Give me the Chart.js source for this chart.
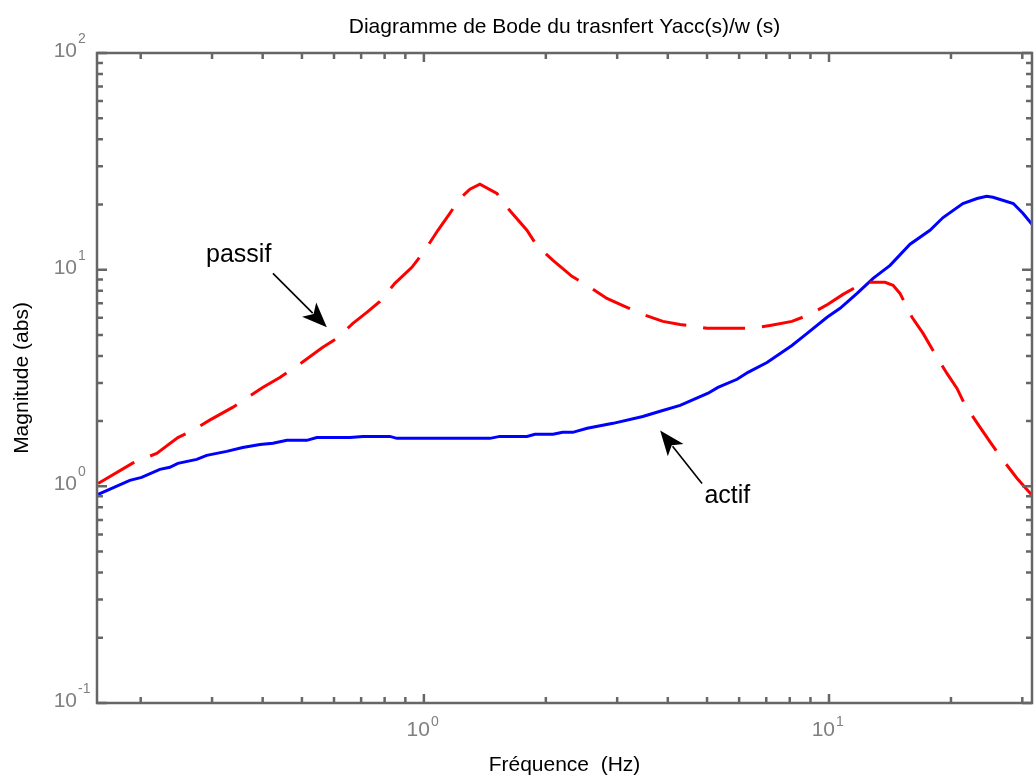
<!DOCTYPE html>
<html>
<head>
<meta charset="utf-8">
<script src="https://cdn.jsdelivr.net/npm/chart.js@4.4.0/dist/chart.umd.min.js"></script>
<style>
  html, body { margin: 0; padding: 0; background: #fff; }
  canvas { display: block; }
</style>
</head>
<body>
<canvas id="bode" width="1035" height="778"></canvas>
<script>
// passive suspension (red dashed)
var freqPassif = [0.157, 0.191, 0.219, 0.247, 0.264, 0.296, 0.338, 0.400, 0.441, 0.500,
                  0.563, 0.610, 0.668, 0.723, 0.779, 0.848, 0.934, 1.006, 1.083, 1.159,
                  1.227, 1.299, 1.375, 1.514, 1.603, 1.796, 1.901, 2.083, 2.32, 2.53,
                  2.83, 3.17, 3.47, 3.89, 4.29, 5.00, 6.45, 7.15, 8.10, 8.98,
                  9.94, 10.83, 11.73, 12.6, 13.75, 14.39, 14.97, 16.03, 17.07, 18.48,
                  19.55, 20.7, 21.7, 23.6, 25.0, 26.9, 29.1, 31.7];
var magPassif = [1.03, 1.28, 1.42, 1.68, 1.78, 2.02, 2.32, 2.86, 3.18, 3.73,
                 4.38, 4.82, 5.65, 6.35, 7.14, 8.65, 10.25, 12.3, 15.2, 18.2,
                 21.3, 23.5, 24.8, 22.5, 19.4, 15.2, 12.9, 11.04, 9.31, 8.47,
                 7.37, 6.70, 6.22, 5.77, 5.59, 5.36, 5.36, 5.53, 5.77, 6.22,
                 6.92, 7.69, 8.37, 8.74, 8.74, 8.47, 7.77, 6.03, 5.08, 3.94,
                 3.32, 2.83, 2.36, 1.87, 1.60, 1.32, 1.09, 0.909];

// active suspension (blue solid)
var freqActif = [0.157, 0.188, 0.201, 0.223, 0.236, 0.247, 0.275, 0.291, 0.326, 0.357,
                 0.394, 0.424, 0.459, 0.514, 0.544, 0.657, 0.707, 0.824, 0.858, 1.455,
                 1.54, 1.796, 1.88, 2.083, 2.20, 2.33, 2.53, 2.93, 3.47, 3.83,
                 4.29, 5.03, 5.32, 5.93, 6.31, 7.03, 8.10, 8.83, 9.89, 10.65,
                 11.73, 12.85, 14.15, 15.85, 17.75, 19.12, 21.4, 23.2, 24.5, 25.4,
                 28.5, 30.1, 31.7];
var magActif = [0.919, 1.066, 1.10, 1.198, 1.224, 1.277, 1.332, 1.39, 1.45, 1.51,
                1.56, 1.58, 1.63, 1.63, 1.68, 1.68, 1.70, 1.70, 1.665, 1.665,
                1.70, 1.70, 1.74, 1.74, 1.775, 1.775, 1.853, 1.953, 2.10, 2.22,
                2.365, 2.69, 2.86, 3.12, 3.36, 3.73, 4.47, 5.08, 6.03, 6.63,
                7.77, 9.12, 10.47, 13.1, 15.2, 17.4, 20.2, 21.3, 21.8, 21.6,
                20.2, 18.2, 16.2];

// tick labels (10^exp)
var xTickValues = [1, 10];
var xTickExp = ['0', '1'];
var yTickValues = [0.1, 1, 10, 100];
var yTickExp = ['-1', '0', '1', '2'];

var titleText = 'Diagramme de Bode du trasnfert Yacc(s)/w (s)';
var xTitle = 'Fréquence  (Hz)';
var yTitle = 'Magnitude (abs)';

// text arrows, in data coordinates
var notes = [
  { text: 'passif', at: [0.349, 10.8], from: [0.424, 9.61], to: [0.576, 5.42] },
  { text: 'actif', at: [5.61, 0.835], from: [4.86, 1.03], to: [3.83, 1.81] }
];

var axisColor = '#666666';
var labelColor = '#808080';
var font = '"Liberation Sans", Arial, sans-serif';

function toPoints(xs, ys) {
  return xs.map(function(x, i) { return { x: x, y: ys[i] }; });
}

function drawArrow(ctx, x0, y0, x1, y1) {
  var ang = Math.atan2(y1 - y0, x1 - x0);
  var L = 25, W = 10;
  ctx.beginPath();
  ctx.moveTo(x0, y0);
  ctx.lineTo(x1 - Math.cos(ang) * L * 0.8, y1 - Math.sin(ang) * L * 0.8);
  ctx.stroke();
  var bx = x1 - Math.cos(ang) * L, by = y1 - Math.sin(ang) * L;
  var nx = -Math.sin(ang), ny = Math.cos(ang);
  ctx.beginPath();
  ctx.moveTo(x1, y1);
  ctx.lineTo(bx + nx * W, by + ny * W);
  ctx.lineTo(x1 - Math.cos(ang) * L * 0.75, y1 - Math.sin(ang) * L * 0.75);
  ctx.lineTo(bx - nx * W, by - ny * W);
  ctx.closePath();
  ctx.fill();
}

var matlabFrame = {
  id: 'matlabFrame',
  afterDatasetsDraw: function(chart) {
    var ctx = chart.ctx, a = chart.chartArea;
    var xs = chart.scales.x, ys = chart.scales.y;
    var d, k, v, p, len;
    ctx.save();

    // box
    ctx.strokeStyle = axisColor;
    ctx.lineWidth = 2.5;
    ctx.strokeRect(a.left, a.top, a.right - a.left, a.bottom - a.top);

    // inward ticks on all four sides
    ctx.lineWidth = 2.5;
    ctx.beginPath();
    for (d = 0.1; d <= 10; d *= 10) {
      for (k = 1; k <= 9; k++) {
        v = k * d;
        if (v < xs.min || v > xs.max) continue;
        p = xs.getPixelForValue(v);
        len = k === 1 ? 9 : 6;
        ctx.moveTo(p, a.bottom); ctx.lineTo(p, a.bottom - len);
        ctx.moveTo(p, a.top); ctx.lineTo(p, a.top + len);
      }
    }
    for (d = 0.1; d <= 100; d *= 10) {
      for (k = 1; k <= 9; k++) {
        v = k * d;
        if (v < ys.min * 0.999 || v > ys.max * 1.001) continue;
        p = ys.getPixelForValue(v);
        len = k === 1 ? 10 : 6;
        ctx.moveTo(a.left, p); ctx.lineTo(a.left + len, p);
        ctx.moveTo(a.right, p); ctx.lineTo(a.right - len, p);
      }
    }
    ctx.stroke();

    // tick labels 10^n
    ctx.fillStyle = labelColor;
    ctx.textBaseline = 'alphabetic';
    xTickValues.forEach(function(val, i) {
      var px = xs.getPixelForValue(val);
      ctx.font = '21px ' + font;
      ctx.textAlign = 'right';
      ctx.fillText('10', px + 6, a.bottom + 33);
      ctx.font = '14px ' + font;
      ctx.textAlign = 'left';
      ctx.fillText(xTickExp[i], px + 7, a.bottom + 23);
    });
    yTickValues.forEach(function(val, i) {
      var py = ys.getPixelForValue(val);
      ctx.font = '21px ' + font;
      ctx.textAlign = 'right';
      ctx.fillText('10', a.left - 20, py + 4);
      ctx.font = '14px ' + font;
      ctx.textAlign = 'left';
      ctx.fillText(yTickExp[i], a.left - 19, py - 10);
    });

    // titles
    ctx.fillStyle = '#000';
    ctx.font = '21px ' + font;
    ctx.textAlign = 'center';
    var cx = (a.left + a.right) / 2;
    ctx.fillText(titleText, cx, 33);
    ctx.fillText(xTitle, cx, a.bottom + 68);
    ctx.save();
    ctx.translate(22, (a.top + a.bottom) / 2);
    ctx.rotate(-Math.PI / 2);
    ctx.textBaseline = 'middle';
    ctx.fillText(yTitle, 0, 0);
    ctx.restore();

    // annotations
    ctx.strokeStyle = '#000';
    ctx.fillStyle = '#000';
    ctx.lineWidth = 1.6;
    notes.forEach(function(n) {
      drawArrow(ctx,
        xs.getPixelForValue(n.from[0]), ys.getPixelForValue(n.from[1]),
        xs.getPixelForValue(n.to[0]), ys.getPixelForValue(n.to[1]));
      ctx.font = '25px ' + font;
      ctx.textAlign = 'center';
      ctx.fillText(n.text, xs.getPixelForValue(n.at[0]), ys.getPixelForValue(n.at[1]));
    });

    ctx.restore();
  }
};

var ctx = document.getElementById('bode').getContext('2d');

var config = {
  type: 'line',
  data: {
    datasets: [{
      label: 'passif',
      data: toPoints(freqPassif, magPassif),
      borderColor: '#ff0000',
      borderWidth: 3,
      borderDash: [42, 17],
      pointRadius: 0,
      tension: 0,
      fill: false
    }, {
      label: 'actif',
      data: toPoints(freqActif, magActif),
      borderColor: '#0000ff',
      borderWidth: 3,
      pointRadius: 0,
      tension: 0,
      fill: false
    }]
  },
  options: {
    responsive: false,
    animation: false,
    layout: { padding: { left: 97, right: 3, top: 53, bottom: 75 } },
    plugins: {
      legend: { display: false },
      title: { display: false },
      tooltip: { enabled: false }
    },
    scales: {
      x: {
        type: 'logarithmic',
        min: 0.156,
        max: 31.7,
        grid: { display: false, drawTicks: false },
        border: { display: false },
        ticks: { display: false }
      },
      y: {
        type: 'logarithmic',
        min: 0.1,
        max: 100,
        grid: { display: false, drawTicks: false },
        border: { display: false },
        ticks: { display: false }
      }
    }
  },
  plugins: [matlabFrame]
};

var bodeChart = new Chart(ctx, config);
</script>
</body>
</html>
